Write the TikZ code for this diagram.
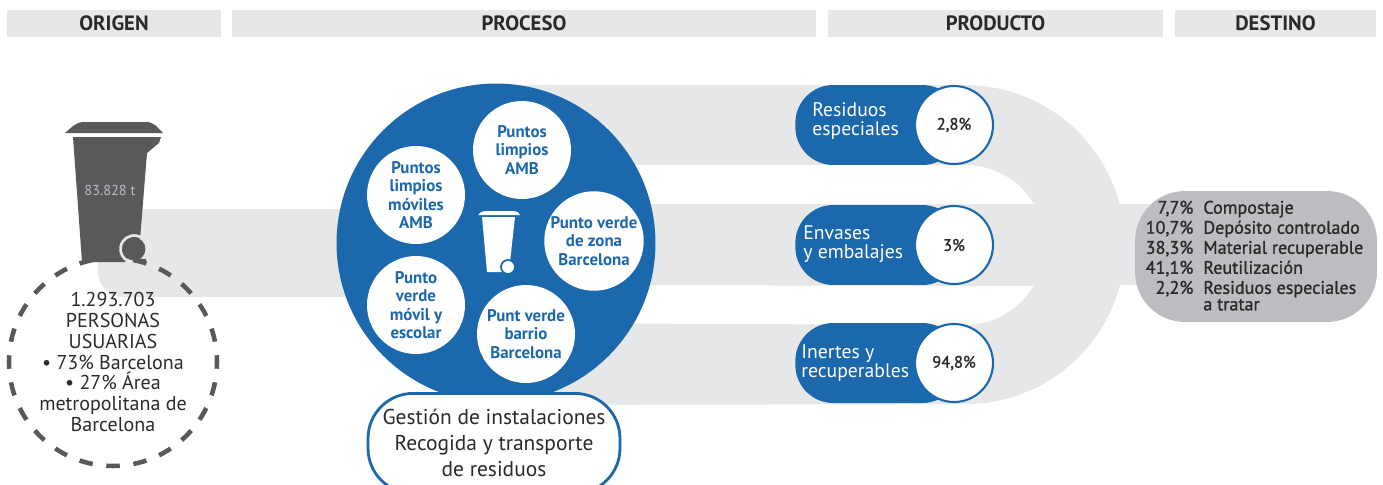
\documentclass[tikz,border=0pt]{standalone}
\usepackage{fontspec}
\setmainfont{PT Sans}
\newfontfamily\medfont[FakeBold=1.2]{PT Sans}
\usepackage{array}
\definecolor{azulbar}{HTML}{1C68AD}
\definecolor{grisband}{HTML}{E6E7E8}
\definecolor{grisbin}{HTML}{58595B}
\definecolor{grisdest}{HTML}{BCBDC0}
\definecolor{textdark}{HTML}{2B2A29}
\tikzset{
  headbar/.style = {fill=grisband, minimum height=0.54cm, inner sep=0pt, text=textdark,
                    font=\bfseries\fontsize{11.8}{13}\selectfont},
  pillbox/.style = {fill=azulbar, rounded corners=0.76cm, minimum width=3.3cm, minimum height=1.6cm, anchor=west},
  pilltext/.style = {anchor=west, text=white, align=left, inner sep=0pt, font=\fontsize{11.2}{10.8}\selectfont},
  pctcircle/.style = {circle, draw=azulbar, line width=1.2pt, fill=white, minimum size=1.56cm, inner sep=0pt,
                      text=textdark, font=\medfont\fontsize{9.4}{10}\selectfont},
  sitecircle/.style = {circle, fill=white, minimum size=1.96cm, inner sep=0pt, align=center, text=azulbar,
                       font=\bfseries\fontsize{9.6}{10.5}\selectfont},
}
\begin{document}
\begin{tikzpicture}[x=0.02cm,y=-0.02cm]
   \useasboundingbox (0,0) rectangle (1383,484);
   \clip (0,0) rectangle (1383,484);
   \node[headbar, minimum width=4.28cm]  (origen)   at (114,23.5)  {ORIGEN};
   \node[headbar, minimum width=11.68cm] (proceso)  at (524,23.5)  {PROCESO};
   \node[headbar, minimum width=6.7cm]   (producto) at (995.5,23.5) {PRODUCTO};
   \node[headbar, minimum width=4.02cm]  (destino)  at (1275.5,23.5) {DESTINO};
   \fill[grisband, rounded corners=0.5cm] (400,297) -- (98,297) -- (98,209) -- (400,209) -- cycle;
   \fill[grisband] (500,85) -- (965,85) arc[start angle=90, end angle=14.8, radius=3.2cm]
      -- (1200,204) -- (1200,285) -- (1120,285) arc[start angle=-14.8, end angle=-90, radius=3.2cm]
      -- (500,405) -- (500,323) -- (965,325) arc[start angle=-90, end angle=-30.8, radius=1.6cm]
      -- (500,285) -- (500,204) -- (1034,204) arc[start angle=30.8, end angle=90, radius=1.6cm]
      -- (500,165) -- cycle;
   \fill[grisbin] (65,133) .. controls (72,127) and (76,122) .. (84,122) -- (146,122) .. controls (154,122) and (157,127) .. (163,133) -- cycle;
   \fill[grisbin] (73,137) -- (161,137) -- (159,143) -- (147,153) -- (140,240) -- (125,262) -- (82,262) -- cycle;
   \fill[grisbin] (134,249) circle[radius=0.23cm];
   \fill[grisbin] (130,258) -- (146,259) -- (146,263) -- cycle;
   \draw[grisband, line width=1.5pt] (134,249) ++(-10:0.27cm) arc[start angle=-10, end angle=245, radius=0.27cm];
   \node[text=grisdest, font=\fontsize{8.2}{10}\selectfont] (toneladas) at (110,190) {83.828 t};
   \node[circle, draw=grisbin, line width=2.6pt, minimum size=4.16cm, inner sep=0pt, align=center, text=textdark,
         dash pattern=on 0.27cm off 0.2746cm, dash phase=0.135cm, font=\fontsize{11.4}{11.9}\selectfont] (usuarias) at (113,362)
      {1.293.703\\PERSONAS\\USUARIAS\\• 73\% Barcelona\\• 27\% Área\\metropolitana de\\Barcelona};
   \node[circle, fill=azulbar, minimum size=6.38cm, inner sep=0pt] (planta) at (496,243) {};
   \node[sitecircle] (limpios)  at (522,150) {Puntos\\limpios\\AMB};
   \node[sitecircle] (moviles)  at (416,195) {Puntos\\limpios\\móviles\\AMB};
   \node[sitecircle] (zona)     at (594,241) {Punto verde\\de zona\\Barcelona};
   \node[sitecircle] (escolar)  at (416,305) {Punto\\verde\\móvil y\\escolar};
   \node[sitecircle] (barrio)   at (526,334) {Punt verde\\barrio\\Barcelona};
   \fill[white] (478,215) .. controls (481,212) and (482,211) .. (485,211) -- (514,211) .. controls (517,211) and (518,212) .. (520,215) -- cycle;
   \fill[white] (482,217) -- (515,217) -- (510,262) -- (503,272) -- (487,272) -- cycle;
   \draw[fill=white, draw=azulbar, line width=1pt] (508,267) circle[radius=0.14cm];
   \node[draw=azulbar, fill=white, line width=1.6pt, rounded corners=0.9cm, minimum width=5.04cm, minimum height=2cm,
         inner sep=0pt, anchor=north] (gestion) at (494,392) {};
   \node[align=center, text=textdark, inner sep=0pt, font=\fontsize{12.2}{14.8}\selectfont] (gestiontext) at (494,443)
      {Gestión de instalaciones\\Recogida y transporte\\de residuos};
   \node[pillbox] (especiales) at (795,125) {};
   \node[pillbox] (envases)    at (795,245) {};
   \node[pillbox] (inertes)    at (795,363) {};
   \node[pilltext] (especialestext) at (812,121) {Residuos\\especiales};
   \node[pilltext] (envasestext)    at (803,244) {Envases\\y embalajes};
   \node[pilltext] (inertestext)    at (801,363) {Inertes y\\recuperables};
   \node[pctcircle] (pctespeciales) at (954,125) {2,8\%};
   \node[pctcircle] (pctenvases)    at (954,245) {3\%};
   \node[pctcircle] (pctinertes)    at (954,363) {94,8\%};
   \node[fill=grisdest, rounded corners=1cm, minimum width=4.84cm, minimum height=2.62cm, inner sep=0pt] (tratamiento) at (1256,256.5) {};
   \node[inner sep=0pt, text=textdark, font=\medfont\fontsize{10.3}{11.4}\selectfont] (tratamientotext) at (1254.5,258)
      {\begin{tabular}{@{}r@{\hspace{0.2cm}}l@{}}
        7,7\% & Compostaje\\
        10,7\% & Depósito controlado\\
        38,3\% & Material recuperable\\
        41,1\% & Reutilización\\
        2,2\% & Residuos especiales\\[-2pt]
        & a tratar
      \end{tabular}};
\end{tikzpicture}
\end{document}
